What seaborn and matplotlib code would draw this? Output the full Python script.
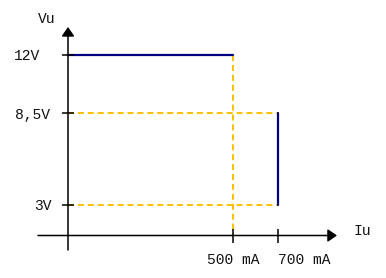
import numpy as np
import pandas as pd
import matplotlib
matplotlib.use("Agg")
import matplotlib.pyplot as plt
import seaborn as sns

# ---------------- data ----------------
y_title = "Vu"
x_title = "Iu"
voltage_levels = [12, 8.5, 3]
voltage_labels = ["12V", "8,5V", "3V"]
current_levels = [500, 700]
current_labels = ["500 mA", "700 mA"]

# output characteristic (blue)
curve_seg = ["cv", "cv", "cc", "cc"]
curve_x = [0, 500, 700, 700]
curve_y = [12, 12, 8.5, 3]

# ---------------- layout / style ----------------
AXIS_Y = 1.17            # level (data units) where the schematic current axis sits
BLUE = "#000080"
GOLD = "#FFC000"
FONT = ["Liberation Mono", "DejaVu Sans Mono"]
P = 0.716                # schematic (compressed) current scale


def fwd(x):
    x = np.asarray(x, dtype=float)
    return np.sign(x) * np.abs(x) ** P


def inv(u):
    u = np.asarray(u, dtype=float)
    return np.sign(u) * np.abs(u) ** (1 / P)


sns.set_style("white")
plt.rcParams["font.family"] = FONT

fig = plt.figure(figsize=(3.86, 2.78), dpi=100)
ax = fig.add_axes([0, 0, 1, 1])
ax.set_xscale("function", functions=(fwd, inv))
ax.set_xlim(-144.5, 1246)
ax.set_ylim(-1.38, 15.3)
ax.axis("off")

# guide lines (gold dashed)
guide_rows = []
guide_rows += [("v500", current_levels[0], voltage_levels[0]),
               ("v500", current_levels[0], AXIS_Y)]
for v in voltage_levels[1:]:
    guide_rows += [(f"h{v}", 0, v), (f"h{v}", current_levels[1], v)]
guides = pd.DataFrame(guide_rows, columns=["seg", "x", "y"])
for seg, g in guides.groupby("seg", sort=False):
    ax.plot(g["x"], g["y"], color=GOLD, lw=1.4,
            ls=(0, (3.1, 2.0)), zorder=2, solid_capstyle="butt",
            dash_capstyle="butt")

# characteristic (blue) via seaborn
curve = pd.DataFrame({"seg": curve_seg, "x": curve_x, "y": curve_y})
sns.lineplot(data=curve, x="x", y="y", units="seg", estimator=None,
             sort=False, color=BLUE, lw=1.6, ax=ax, zorder=3, legend=False)
ax.set_xlim(-144.5, 1246)
ax.set_ylim(-1.38, 15.3)
ax.axis("off")

# axes with arrows
arrow = dict(arrowstyle="-|>,head_length=0.55,head_width=0.38",
             color="black", lw=1.1, shrinkA=0, shrinkB=0, mutation_scale=10)
ax.annotate("", xy=(0, 0.903), xytext=(0, 0.1007),
            xycoords=ax.get_xaxis_transform(), arrowprops=arrow, zorder=4)
ax.annotate("", xy=(0.873, AXIS_Y), xytext=(0.0984, AXIS_Y),
            xycoords=ax.get_yaxis_transform(), arrowprops=arrow, zorder=4)

# ticks
ax.plot([0] * len(voltage_levels), voltage_levels, ls="none", marker="_",
        ms=8, mew=1.1, color="black", zorder=4)
ax.plot(current_levels, [AXIS_Y] * len(current_levels), ls="none",
        marker="|", ms=10, mew=1.1, color="black", zorder=4)

txt = dict(fontsize=10.5, color="#111111", textcoords="offset pixels")

# y tick labels
y_offsets = [-28, -18, -16]
for v, lab, dx in zip(voltage_levels, voltage_labels, y_offsets):
    ax.annotate(lab, xy=(0, v), xytext=(dx, 0), ha="right",
                va="center_baseline", **txt)

# x tick labels
x_align = ["center", "left"]
for c, lab, ha in zip(current_levels, current_labels, x_align):
    ax.annotate(lab, xy=(c, AXIS_Y), xytext=(0, -23), ha=ha,
                va="center_baseline", **txt)

# axis titles
ax.annotate(y_title, xy=(0, 0.903), xycoords=ax.get_xaxis_transform(),
            xytext=(-21, 9), ha="center", va="center_baseline", **txt)
ax.annotate(x_title, xy=(0.873, AXIS_Y), xycoords=ax.get_yaxis_transform(),
            xytext=(25, 6), ha="center", va="center_baseline", **txt)

fig.savefig("out.png", dpi=100)
